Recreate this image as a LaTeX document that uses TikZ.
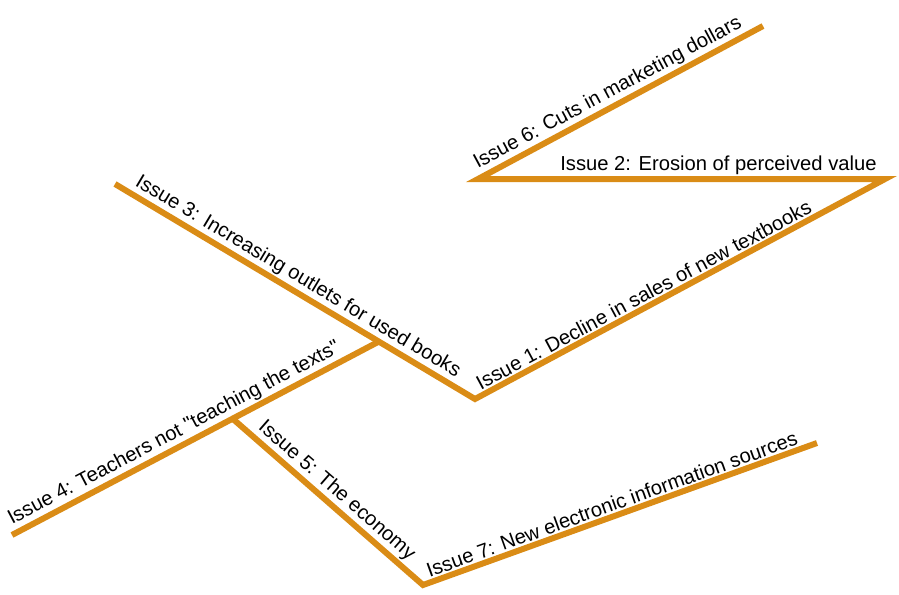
\documentclass[tikz,border=0pt]{standalone}
\usepackage{fontspec}
\setmainfont{Liberation Sans}
\definecolor{issueorange}{RGB}{218,140,22}
\begin{document}
\begin{tikzpicture}
[x=1pt,y=-1pt,
  linedecorate/.style={draw=issueorange,line width=6pt},
  labeldecorate/.style={sloped,anchor=south west,inner sep=4.5pt,
    font=\fontsize{20.2}{24}\selectfont}]
\useasboundingbox (0,0) rectangle (899,594);
%% points of the lines
\foreach \pointname/\x/\y in {top/763/26, left/478/179, right/885/179,
  bottom/475/399, start/115/184, tail/12/535, fork/378/342,
  branch/233/419, low/423/585, end/817/443} {
  \coordinate (\pointname) at (\x,\y);
}
%% lines
\draw[linedecorate] (top) -- (left) -- (right) -- (bottom) -- (start);
\draw[linedecorate] (tail) -- (fork);
\draw[linedecorate] (branch) -- (low) -- (end);
%% labels along the lines
\path
\foreach \startpoint/\endpoint/\where/\issue in {
  left/top/0.0/{Issue 6: Cuts in marketing dollars},
  bottom/right/0.01/{Issue 1: Decline in sales of new textbooks},
  start/bottom/0.03/{Issue 3: Increasing outlets for used books},
  tail/fork/0.0/{Issue 4: Teachers not \textquotedbl teaching the texts\textquotedbl},
  branch/low/0.08/{Issue 5: The economy},
  low/end/0.01/{Issue 7: New electronic information sources}} {
  (\startpoint) -- node[labeldecorate,pos=\where] {\issue} (\endpoint)
};
\path (left) -- node[labeldecorate,anchor=south east,pos=0.991]
  {Issue 2: Erosion of perceived value} (right);
\end{tikzpicture}
\end{document}
